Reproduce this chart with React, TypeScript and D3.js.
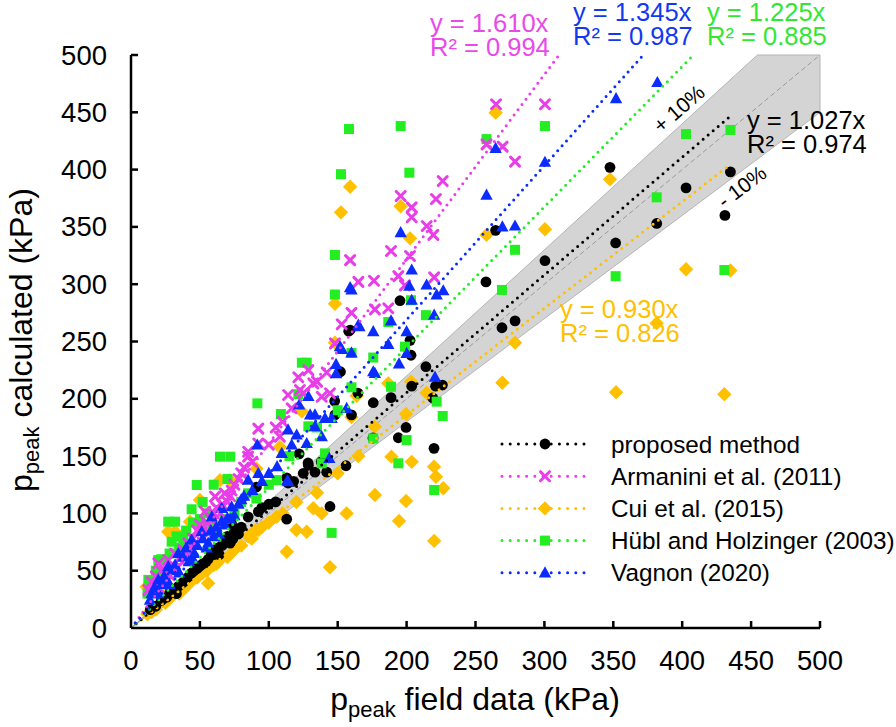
import React from "react";
import * as d3 from "d3";

// ---------- data (kPa) ----------
const xTicks = [0, 50, 100, 150, 200, 250, 300, 350, 400, 450, 500];
const yTicks = [0, 50, 100, 150, 200, 250, 300, 350, 400, 450, 500];

const proposed: [number, number][] = [
  [347.6, 402], [402.8, 384], [435, 398], [431, 360], [381.5, 353], [351.7, 336], [300.4, 320.5],
  [257.6, 302], [264.6, 347], [278.7, 268], [269.2, 262], [195.2, 285.6], [159, 260], [202.5, 251],
  [203.2, 238], [152, 223.6], [214, 228], [203.7, 211], [221, 211], [226, 212], [188.7, 201],
  [164.7, 205], [147.8, 198], [199.6, 175], [194, 166], [219.9, 156.8], [219, 200.7], [156, 141.6],
  [144.4, 106], [175.6, 165.8], [158, 259], [148, 186], [175.8, 196.6], [160, 186], [122, 152],
  [128.7, 142], [133.5, 136], [142, 136], [113, 131], [91, 123], [92.4, 101.5], [85, 97], [113, 95],
  [73, 91], [33, 30], [14, 16], [18, 19], [22, 24], [26, 27], [30, 34], [36, 38], [40, 43], [44, 48],
  [48, 52], [52, 56], [56, 60], [60, 64], [63, 70], [66, 72], [68, 78], [70, 80], [72, 74], [75, 84],
  [78, 82], [80, 88], [50, 54], [58, 66], [100, 108], [105, 110], [118, 128], [125, 135], [138, 145],
  [95, 105], [128.5, 144], [114, 126.5], [24, 26], [28, 30], [34, 36], [38, 40], [42, 45], [46, 50],
  [54, 57], [62, 67], [64, 64], [67, 75], [74, 78], [77, 86],
];

const armanini: [number, number][] = [
  [264.9, 457], [300.4, 457], [258, 422], [269.7, 420], [278.7, 407], [226.2, 390], [195.7, 377],
  [221.3, 374.3], [203.7, 367], [203.7, 358.4], [214.6, 350.8], [219.4, 343], [188.7, 329],
  [202.5, 324.6], [159, 321], [165, 302], [176.3, 303], [194, 307], [198.8, 299], [220, 306],
  [160, 275], [177, 278], [186.7, 279], [152.9, 265], [148, 248.4], [128.7, 225], [121.4, 218.8],
  [132.3, 213.5], [114, 203.3], [138.4, 201.8], [144.4, 204.8], [142, 223], [116.6, 191.7],
  [92.4, 174], [108, 167], [85, 153.8], [92.4, 161], [53.7, 101.5], [61, 114.6], [68, 117.5],
  [73, 120], [56, 82.6], [32, 65], [19.8, 56.5], [12.6, 33], [85, 149.5], [41.6, 74], [27, 59.3],
  [15, 40], [18, 45], [22, 50], [25, 48], [30, 55], [35, 60], [38, 68], [45, 78], [48, 85], [50, 90],
  [58, 95], [62, 105], [65, 100], [70, 110], [75, 125], [78, 130], [80, 135], [100, 160], [105, 175],
  [110, 180], [125, 205], [135, 215], [122.6, 207.7], [20, 35], [28, 46], [33, 52], [40, 62],
  [43, 70], [52, 88], [55, 92], [60, 100], [66, 108], [72, 115], [82, 140], [88, 145],
];

const cui: [number, number][] = [
  [347.6, 391.5], [402.8, 313], [435, 312], [381.5, 266], [352, 205.7], [430.6, 204], [264.6, 449.7],
  [159, 385], [152.4, 362.7], [195.7, 368], [202.5, 340], [300.4, 348], [258, 343], [148, 283],
  [278.7, 249], [269.5, 214], [186.7, 213.5], [203.2, 215], [214.5, 205], [199.6, 186.7], [177, 175.7],
  [163.8, 202.7], [189, 149.5], [203.7, 145], [219.9, 140.8], [221.3, 132], [226.6, 122], [177, 116],
  [199.6, 110.8], [156.5, 100], [194.5, 93.4], [220, 76], [144.4, 53], [124, 189], [160, 184],
  [108, 158], [91, 139], [64.6, 129], [72, 129], [50, 111.7], [27, 84], [32, 84], [56, 39],
  [113, 66.6], [105.7, 97], [87.6, 78], [92.4, 85.5], [75.5, 71], [42.8, 92.8], [11.4, 36], [22, 33],
  [15, 14], [20, 20], [25, 22], [30, 28], [35, 30], [40, 36], [45, 42], [55, 50], [60, 55], [65, 60],
  [70, 62], [80, 72], [85, 80], [100, 92], [110, 100], [120, 110], [135, 118], [150, 135], [165, 150],
  [148, 249], [127.5, 84], [132.3, 104.5], [138.4, 100], [120, 85.5], [12, 12], [18, 16], [28, 26],
  [38, 34], [48, 44], [52, 48], [62, 56], [75, 68], [90, 85], [95, 88],
];

const hubl: [number, number][] = [
  [158.2, 435.4], [195.7, 438], [152.4, 396], [202, 397.3], [258, 426.6], [300.4, 438], [278.7, 330],
  [148, 325.5], [148, 291], [269.2, 295], [214, 273], [203.2, 286], [186.7, 267], [198.8, 245.5],
  [175.8, 236], [188.7, 210.5], [160, 240], [402.8, 431], [435, 434.6], [381.5, 375.8], [351.7, 307],
  [430.6, 312.4], [221.8, 197.5], [226.2, 185], [200, 164], [175.8, 165.5], [194, 143.7], [220, 120.4],
  [145.6, 83], [124, 231.5], [127.5, 231.5], [91.7, 196], [108.8, 186.7], [128.7, 176], [121.4, 204],
  [64.6, 149.5], [72, 149.5], [140.8, 152.4], [105.7, 129], [47.7, 124.8], [44, 103.6], [27, 92.8],
  [32, 92.8], [29.5, 75.3], [19.8, 59.3], [12.6, 42], [85, 117.5], [91, 113], [62, 79.7],
  [15, 40], [18, 50], [22, 60], [25, 45], [35, 70], [40, 85], [50, 95], [55, 100], [58, 90], [68, 95],
  [75, 100], [80, 110], [100, 125], [115, 150], [135, 175], [150, 190], [160, 210], [138.4, 143.7],
  [12, 30], [20, 45], [28, 65], [33, 80], [38, 78], [45, 92], [52, 110], [60, 125], [70, 130],
];

const vagnon: [number, number][] = [
  [382, 476], [352, 462], [264.6, 418.6], [300.4, 406.4], [258, 377.8], [269.5, 350], [278.7, 350.8],
  [195.7, 345], [203.7, 312.4], [202, 298.4], [214.5, 299.3], [221.8, 290.6], [226.6, 294.3],
  [203.7, 286], [159, 297], [220, 273], [188.7, 268], [175.8, 258.6], [200, 258.6], [165.7, 263],
  [186.7, 247.5], [160, 240], [200, 239.7], [194.5, 230.4], [177, 222.2], [148.8, 230], [148.8, 222],
  [151.7, 245.5], [220.6, 219], [165, 264.4], [153, 243], [175.8, 223.6], [128.7, 202], [122, 194.6],
  [130, 186], [133.5, 186], [140.8, 183], [145.6, 183], [156.5, 191.7], [133.5, 175.7], [138.4, 167],
  [114, 172.8], [120.2, 168.4], [116.6, 159.7], [109.4, 152.4], [127.5, 161], [91.7, 159.7],
  [106, 140.8], [92.4, 135], [85, 129], [113.4, 128.5], [143.9, 148], [160, 295], [114, 127.7],
  [73, 105.8], [65.8, 104.4], [58.6, 97], [51.3, 84], [44, 76.8], [34.3, 65], [27, 53.5], [19.8, 42],
  [13.8, 24.4], [65.8, 92.8], [56, 74], [15, 30], [17, 35], [22, 38], [24, 45], [30, 50], [32, 55],
  [38, 62], [40, 70], [46, 65], [48, 72], [52, 78], [60, 80], [62, 88], [68, 90], [70, 96], [75, 98],
  [78, 108], [80, 112], [95, 128], [100, 135], [20, 30], [25, 40], [28, 38], [35, 48], [42, 58],
  [45, 60], [55, 70], [58, 85], [64, 82], [72, 95], [82, 115], [88, 120],
];

const slopes = { proposed: 1.027, armanini: 1.61, cui: 0.93, hubl: 1.225, vagnon: 1.345 };
const r2 = { proposed: 0.974, armanini: 0.994, cui: 0.826, hubl: 0.885, vagnon: 0.987 };
const legendLabels = ["proposed method", "Armanini et al. (2011)", "Cui et al. (2015)", "Hübl and Holzinger (2003)", "Vagnon (2020)"];
const trendXMax = 435;

// ---------- layout ----------
const W = 896, H = 727;
const x = d3.scaleLinear().domain([0, 500]).range([131, 820]);
const y = d3.scaleLinear().domain([0, 500]).range([628, 55]);
const FONT = "'Liberation Sans', Arial, Helvetica, sans-serif";

type Shape = "circle" | "x" | "diamond" | "square" | "triangle";
const C = { black: "#000000", magenta: "#e83de8", yellow: "#ffc000", green: "#22ee22", blue: "#0a2cff" };

function Marker({ shape, cx, cy, color }: { shape: Shape; cx: number; cy: number; color: string }) {
  if (shape === "circle") return <circle cx={cx} cy={cy} r={5.4} fill={color} />;
  if (shape === "square") return <rect x={cx - 5} y={cy - 5} width={10} height={10} fill={color} />;
  if (shape === "diamond") {
    const s = 7.2;
    return <path d={`M${cx},${cy - s}L${cx + s},${cy}L${cx},${cy + s}L${cx - s},${cy}Z`} fill={color} />;
  }
  if (shape === "triangle") {
    return <path d={`M${cx},${cy - 6.6}L${cx + 6.2},${cy + 4.6}L${cx - 6.2},${cy + 4.6}Z`} fill={color} />;
  }
  const s = 4.5;
  return (
    <path d={`M${cx - s},${cy - s}L${cx + s},${cy + s}M${cx - s},${cy + s}L${cx + s},${cy - s}`}
      stroke={color} strokeWidth={3} strokeLinecap="round" fill="none" />
  );
}

export default function App() {
  const series = [
    { key: "proposed", data: proposed, shape: "circle" as Shape, color: C.black, legend: 0 },
    { key: "armanini", data: armanini, shape: "x" as Shape, color: C.magenta, legend: 1 },
    { key: "cui", data: cui, shape: "diamond" as Shape, color: C.yellow, legend: 2 },
    { key: "hubl", data: hubl, shape: "square" as Shape, color: C.green, legend: 3 },
    { key: "vagnon", data: vagnon, shape: "triangle" as Shape, color: C.blue, legend: 4 },
  ];
  const drawOrder = ["cui", "proposed", "hubl", "armanini", "vagnon"];
  const byKey: any = {};
  series.forEach((s) => (byKey[s.key] = s));

  const band = d3.line<[number, number]>().x((d) => x(d[0])).y((d) => y(d[1]))(
    [[0, 0], [500 / 1.1, 500], [500, 500], [500, 450], [0, 0]]
  ) as string;

  const dotStyle = { strokeDasharray: "0 6.6", strokeLinecap: "round" as const, strokeWidth: 3 };

  const labels = [
    { key: "armanini", x: 430, y1: 32, color: "#e84ae8" },
    { key: "vagnon", x: 573, y1: 21, color: "#1238f0" },
    { key: "hubl", x: 707, y1: 21, color: "#33e633" },
    { key: "proposed", x: 747, y1: 129, color: "#000" },
    { key: "cui", x: 560, y1: 318, color: "#ffc000" },
  ];

  return (
    <svg width={W} height={H} style={{ position: "absolute", left: 0, top: 0, background: "#fff" }} fontFamily={FONT}>
      <defs>
        <clipPath id="plot">
          <rect x={x(0)} y={y(500)} width={x(500) - x(0)} height={y(0) - y(500)} />
        </clipPath>
      </defs>
      {/* +-10% band */}
      <path d={band} fill="#d4d4d4" stroke="#b5b5b5" strokeWidth={1} />
      <line x1={x(0)} y1={y(0)} x2={x(500)} y2={y(500)} stroke="#9a9a9a" strokeWidth={1} strokeDasharray="5 3" />

      {/* markers */}
      {drawOrder.map((k) => {
        const s = byKey[k];
        return (
          <g key={k}>
            {s.data.map((d: [number, number], i: number) => (
              <Marker key={i} shape={s.shape} cx={x(d[0])} cy={y(d[1])} color={s.color} />
            ))}
          </g>
        );
      })}

      {/* trend lines */}
      <g clipPath="url(#plot)">
        {drawOrder.map((k) => {
          const s = byKey[k];
          const m = (slopes as any)[k];
          return (
            <line key={k} x1={x(0)} y1={y(0)} x2={x(trendXMax)} y2={y(m * trendXMax)}
              stroke={s.color} {...dotStyle} />
          );
        })}
      </g>

      {/* axes */}
      <g stroke="#000" strokeWidth={2.5} fill="none">
        <line x1={x(0)} y1={y(0)} x2={x(500)} y2={y(0)} />
        <line x1={x(0)} y1={y(0)} x2={x(0)} y2={y(500)} />
        {xTicks.slice(1).map((t) => (
          <line key={"xt" + t} x1={x(t)} x2={x(t)} y1={y(0)} y2={y(0) - 7} />
        ))}
        {yTicks.slice(1).map((t) => (
          <line key={"yt" + t} x1={x(0)} x2={x(0) + 7} y1={y(t)} y2={y(t)} />
        ))}
      </g>
      <g fontSize={27.5} fill="#000">
        {xTicks.map((t) => (
          <text key={"xl" + t} x={x(t)} y={670} textAnchor="middle">{t}</text>
        ))}
        {yTicks.map((t) => (
          <text key={"yl" + t} x={107} y={y(t) + 9.5} textAnchor="end">{t}</text>
        ))}
      </g>

      {/* axis titles */}
      <text x={475} y={710} textAnchor="middle" fontSize={32}>
        p<tspan fontSize={22} dy={7}>peak</tspan><tspan dy={-7}> field data (kPa)</tspan>
      </text>
      <text transform="translate(32,340) rotate(-90)" textAnchor="middle" fontSize={32}>
        p<tspan fontSize={22} dy={7}>peak</tspan><tspan dy={-7}> calculated (kPa)</tspan>
      </text>

      {/* equations */}
      <g fontSize={25.5}>
        {labels.map((l) => (
          <g key={l.key} fill={l.color}>
            <text x={l.x} y={l.y1}>{`y = ${(slopes as any)[l.key].toFixed(3)}x`}</text>
            <text x={l.x} y={l.y1 + 23.5}>{`R² = ${(r2 as any)[l.key].toFixed(3)}`}</text>
          </g>
        ))}
      </g>

      {/* band labels */}
      <text transform="translate(680,110) rotate(-41)" textAnchor="middle" dominantBaseline="middle" fontSize={21}>+ 10%</text>
      <text transform="translate(743,188) rotate(-37)" textAnchor="middle" dominantBaseline="middle" fontSize={21}>- 10%</text>

      {/* legend */}
      <g>
        {series.map((s) => {
          const cy = 444 + s.legend * 32.2;
          return (
            <g key={s.key}>
              <line x1={502} x2={592} y1={cy} y2={cy} stroke={s.color} strokeDasharray="0 8.2" strokeLinecap="round" strokeWidth={3} />
              <Marker shape={s.shape} cx={545} cy={cy} color={s.color} />
              <text x={611} y={cy + 8.5} fontSize={24.3}>{legendLabels[s.legend]}</text>
            </g>
          );
        })}
      </g>
    </svg>
  );
}
